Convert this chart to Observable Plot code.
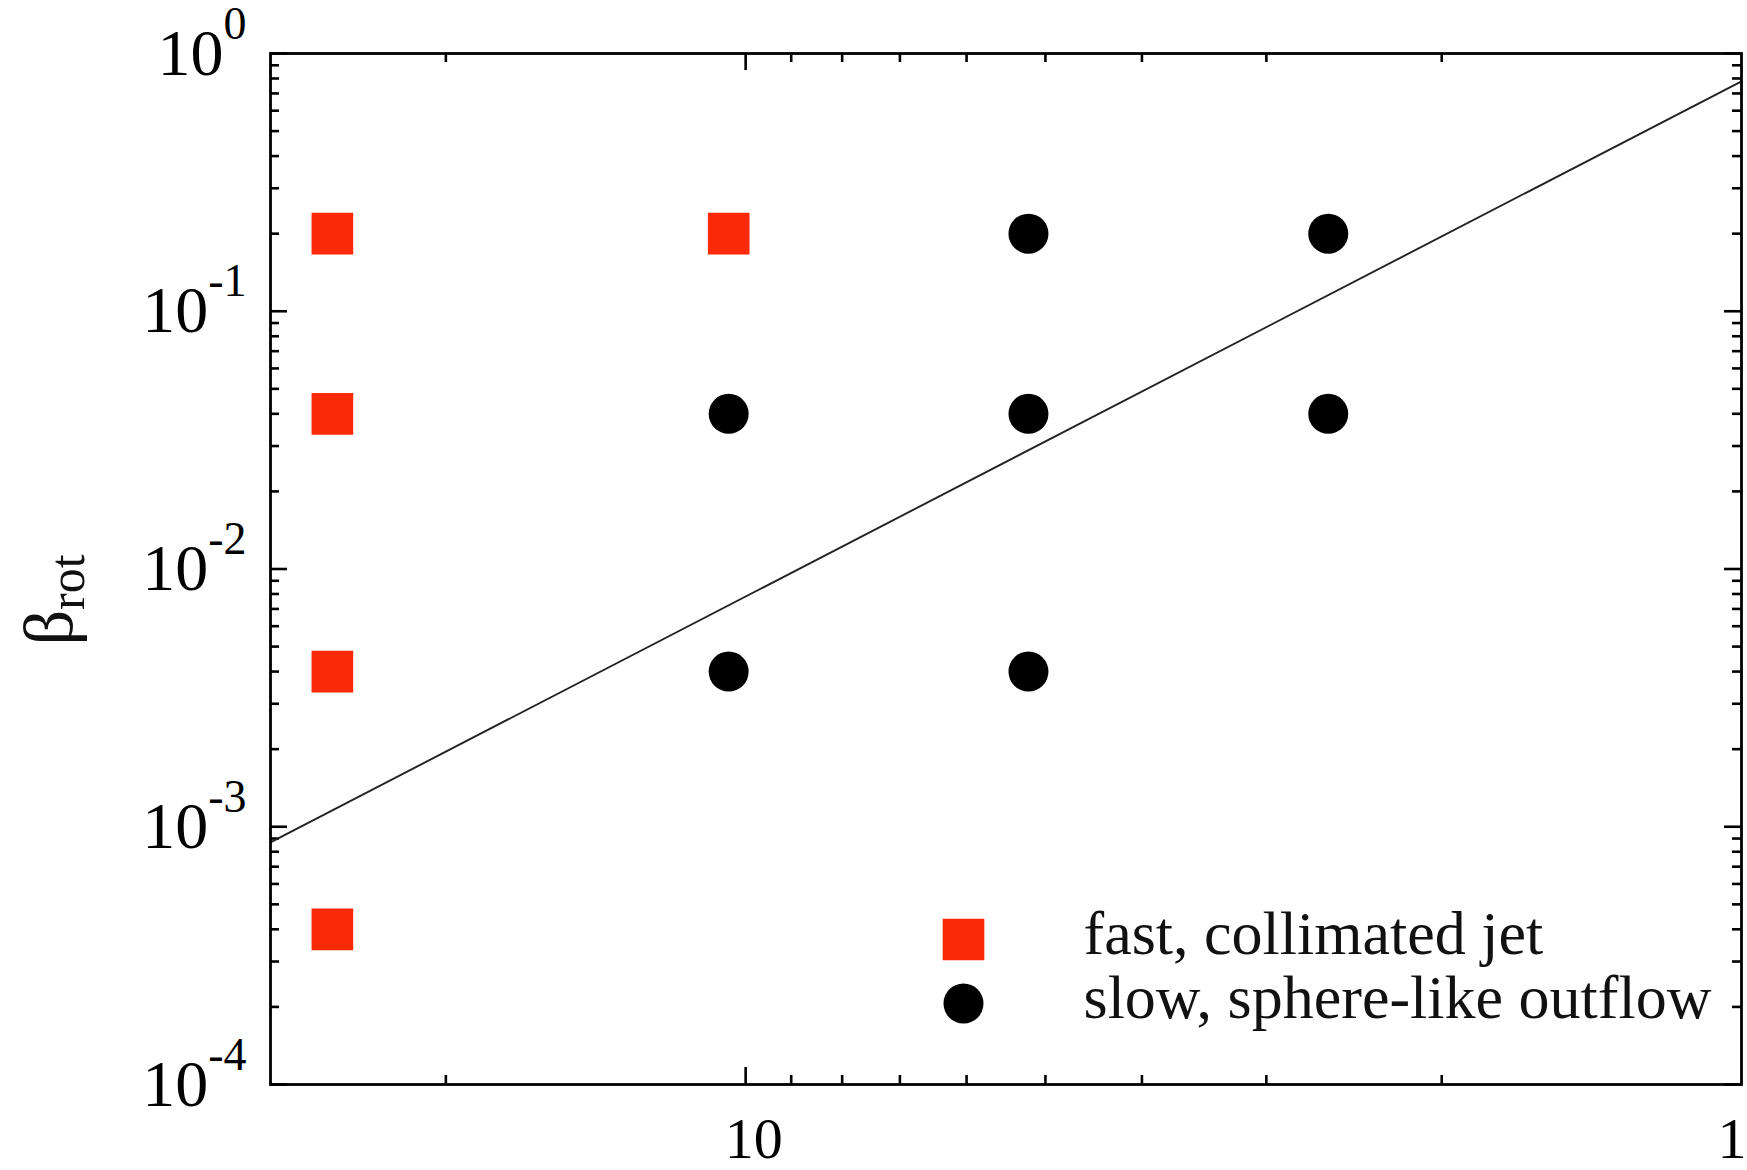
<!DOCTYPE html>
<html><head><meta charset="utf-8">
<script src="https://cdn.jsdelivr.net/npm/d3@7"></script>
<script src="https://cdn.jsdelivr.net/npm/@observablehq/plot@0.6"></script>
<style>
html,body{margin:0;padding:0;background:#fff;overflow:hidden;}
#chart svg{display:block;}
</style></head><body><div id="chart"></div>
<script>
// ---- data ----
const jetX = [26, 26, 26, 26, 10.4];
const jetBeta = [0.2, 0.04, 0.004, 0.0004, 0.2];
const outflowX = [10.4, 10.4, 5.2, 5.2, 5.2, 2.6, 2.6];
const outflowBeta = [0.04, 0.004, 0.2, 0.04, 0.004, 0.2, 0.04];
const boundaryX = [30, 1];
const boundaryBeta = [0.00087, 0.78];
const legendLabels = ["fast, collimated jet", "slow, sphere-like outflow"];
const xDomain = [30, 1];
const yDomain = [1e-4, 1];
const xLabelTicks = [10];
const xEdgeLabelTicks = [1];
const xMajorTicks = [10];
const xMinorTicks = [20, 9, 8, 7, 6, 5, 4, 3, 2];
const yMajorTicks = [1, 0.1, 0.01, 0.001, 0.0001];
const yMinorMultipliers = [2, 3, 4, 5, 6, 7, 8, 9];
const yMinorTicks = [];
for (const d of [1e-4, 1e-3, 1e-2, 1e-1]) for (const m of yMinorMultipliers) yMinorTicks.push(+(d * m).toPrecision(3));

// ---- layout ----
const W = 1747, H = 1170;
const mL = 270, mR = 6, mT = 53, mB = 86;
const pW = W - mL - mR, pH = H - mT - mB;
const majorLen = 17, minorLen = 9;
const tickW = 2.6;
const red = "#fa2a06";
const serif = "'Liberation Serif', 'DejaVu Serif', serif";

const jet = jetX.map((x, i) => ({x, y: jetBeta[i]}));
const outflow = outflowX.map((x, i) => ({x, y: outflowBeta[i]}));
const boundary = boundaryX.map((x, i) => ({x, y: boundaryBeta[i]}));

const chart = Plot.plot({
  width: W, height: H,
  marginLeft: mL, marginRight: mR, marginTop: mT, marginBottom: mB,
  x: {type: "log", domain: xDomain},
  y: {type: "log", domain: yDomain},
  style: {fontFamily: serif, fontSize: "64px", color: "black", background: "white", overflow: "visible"},
  marks: [
    // inward ticks, x (bottom & top)
    Plot.ruleX(xMinorTicks, {x: d => d, insetTop: pH - minorLen, stroke: "black", strokeWidth: tickW}),
    Plot.ruleX(xMinorTicks, {x: d => d, insetBottom: pH - minorLen, stroke: "black", strokeWidth: tickW}),
    Plot.ruleX(xMajorTicks, {x: d => d, insetTop: pH - majorLen, stroke: "black", strokeWidth: tickW}),
    Plot.ruleX(xMajorTicks, {x: d => d, insetBottom: pH - majorLen, stroke: "black", strokeWidth: tickW}),
    // inward ticks, y (left & right)
    Plot.ruleY(yMinorTicks, {y: d => d, insetRight: pW - minorLen, stroke: "black", strokeWidth: tickW}),
    Plot.ruleY(yMinorTicks, {y: d => d, insetLeft: pW - minorLen, stroke: "black", strokeWidth: tickW}),
    Plot.ruleY(yMajorTicks, {y: d => d, insetRight: pW - majorLen, stroke: "black", strokeWidth: tickW}),
    Plot.ruleY(yMajorTicks, {y: d => d, insetLeft: pW - majorLen, stroke: "black", strokeWidth: tickW}),
    // axis labels
    Plot.axisX(xLabelTicks, {anchor: "bottom", tickSize: 0, tickPadding: 32, dx: 8, tickFormat: d => String(d), label: null, fontSize: 58}),
    Plot.axisX(xEdgeLabelTicks, {anchor: "bottom", tickSize: 0, tickPadding: 32, textAnchor: "end", dx: 5, tickFormat: d => String(d), label: null, fontSize: 58}),
    Plot.axisY(yMajorTicks, {anchor: "left", tickSize: 0, tickPadding: 24, tickFormat: d => "10^" + Math.round(Math.log10(d)), label: null, fontSize: 66}),
    // boundary line
    Plot.line(boundary, {x: "x", y: "y", stroke: "#222", strokeWidth: 1.9}),
    // data
    Plot.dot(jet, {x: "x", y: "y", symbol: "square", r: 23.5, fill: red}),
    Plot.dot(outflow, {x: "x", y: "y", symbol: "circle", r: 20, fill: "black"}),
    // legend
    Plot.dot([legendLabels[0]], {frameAnchor: "bottom-right", dx: -778, dy: -145, symbol: "square", r: 23.5, fill: red}),
    Plot.dot([legendLabels[1]], {frameAnchor: "bottom-right", dx: -778, dy: -81, symbol: "circle", r: 20, fill: "black"}),
    Plot.text([legendLabels[0]], {frameAnchor: "bottom-right", dx: -658, dy: -131, text: d => d, textAnchor: "start", fontSize: 62, fill: "#111"}),
    Plot.text([legendLabels[1]], {frameAnchor: "bottom-right", dx: -658, dy: -67, text: d => d, textAnchor: "start", fontSize: 62, fill: "#111"}),
    Plot.frame({stroke: "black", strokeWidth: 2.8})
  ]
});
document.getElementById("chart").appendChild(chart);

// superscript exponents on the y tick labels
const svg = d3.select(chart);
svg.selectAll('g[aria-label="y-axis tick label"] text').each(function() {
  const t = d3.select(this);
  const s = t.text();
  const parts = s.split("^");
  if (parts.length !== 2) return;
  t.text(parts[0]);
  t.append("tspan").attr("dy", -36).attr("font-size", "46px").text(parts[1].replace("\u2212", "-"));
});

// y-axis title: beta_rot
const title = svg.append("text")
  .attr("transform", "translate(72,600) rotate(-90)")
  .attr("text-anchor", "middle")
  .attr("font-family", serif)
  .attr("font-size", 70)
  .attr("fill", "#111");
title.append("tspan").text("\u03B2");
title.append("tspan").attr("font-size", 50).attr("dy", 12).text("rot");
</script>
</body></html>
